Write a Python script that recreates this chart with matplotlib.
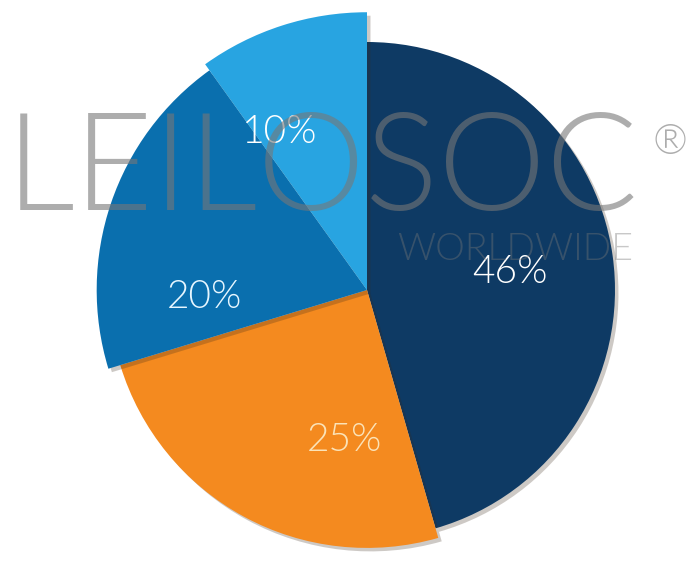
import matplotlib.pyplot as plt
from matplotlib import patheffects as pe

# data
shares = [46, 25, 20, 10]
labels = ['46%', '25%', '20%', '10%']
colors = ['#0e3a64', '#f48a1f', '#0a6fae', '#28a4e1']
label_colors = ['#ffffff', '#fbe3b8', '#e6f6ff', '#ffffff']

# layout (pixel space of the reference -> data units, 248 px = 1 radius)
cx, cy, unit = 367, 290, 248
radii = [1.0, 1.04, 1.09, 1.12]
label_px = [(510, 272), (345, 440), (205, 297), (280, 132)]

plt.rcParams['font.family'] = ['Lato', 'DejaVu Sans']

fig = plt.figure(figsize=(6.91, 5.62), dpi=100)
ax = fig.add_axes([0, 0, 1, 1])

wedges, _ = ax.pie(shares, colors=colors, startangle=90, counterclock=False, radius=1.0)

for i, w in enumerate(wedges):
    w.set_radius(radii[i])
    w.set_zorder(1 + i)
    w.set_path_effects([pe.SimplePatchShadow(offset=(2.5, -2.5), shadow_rgbFace='#3a2a1a', alpha=0.25),
                        pe.Normal()])

for i, lab in enumerate(labels):
    px, py = label_px[i]
    ax.text((px - cx) / unit, (cy - py) / unit, lab, color=label_colors[i],
            fontsize=28, fontweight=300, ha='center', va='center', zorder=8)

# watermark
wm = dict(color='#777777', fontweight=300, va='center', zorder=10)
ax.text((322 - cx) / unit, (cy - 172) / unit, 'LEILOSOC', alpha=0.6,
        fontsize=98, ha='center', **wm)
ax.text((670 - cx) / unit, (cy - 142) / unit, '®', alpha=0.6,
        fontsize=30, ha='center', **wm)
ax.text((633 - cx) / unit, (cy - 250) / unit, 'WORLDWIDE', alpha=0.4,
        fontsize=27, ha='right', **wm)

ax.set_xlim(-cx / unit, (691 - cx) / unit)
ax.set_ylim(-(562 - cy) / unit, cy / unit)
ax.axis('off')

fig.savefig('out.png', dpi=100)
